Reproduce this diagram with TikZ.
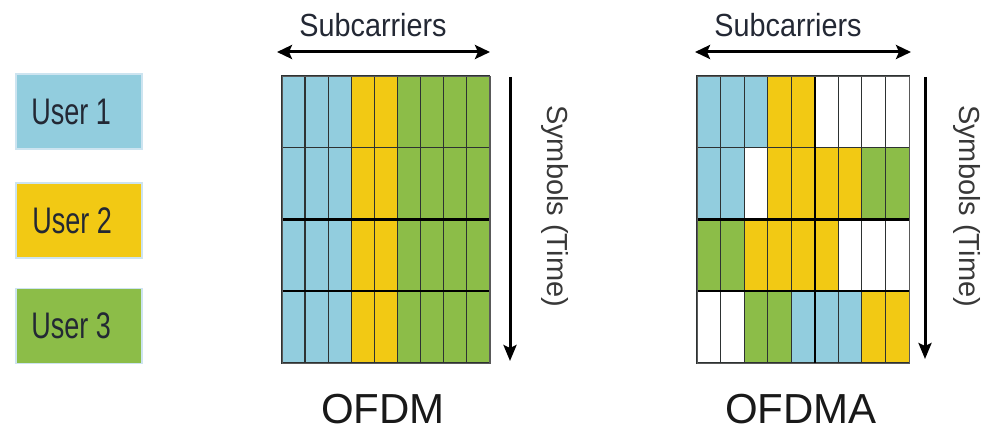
\documentclass[tikz,border=0pt]{standalone}
\usepackage{fontspec}
\setmainfont{Liberation Sans}
\newfontfamily\condfont[FakeStretch=0.73]{Liberation Sans}
\newfontfamily\headfont[FakeStretch=0.9]{Liberation Sans}
\usetikzlibrary{arrows.meta}

\definecolor{cellb}{RGB}{146,205,222}
\definecolor{celly}{RGB}{242,201,20}
\definecolor{cellg}{RGB}{140,189,72}
\definecolor{cellw}{RGB}{255,255,255}
\definecolor{labeltext}{RGB}{35,40,52}
\definecolor{legendedge}{RGB}{205,228,240}
\definecolor{gridline}{RGB}{45,50,50}

\tikzset{
  legendbox/.style={draw=legendedge, line width=1.5pt, minimum width=126pt,
    minimum height=75pt, inner sep=0pt},
  legendtext/.style={anchor=west, inner sep=0pt, text=labeltext,
    font=\condfont\fontsize{37}{42}\selectfont},
  axislabel/.style={inner sep=0pt, text=labeltext,
    font=\headfont\fontsize{32}{36}\selectfont},
  timelabel/.style={inner sep=0pt, rotate=-90, text=black!78,
    font=\fontsize{29}{34}\selectfont},
  title/.style={inner sep=0pt, text=black!90, anchor=base,
    font=\fontsize{42}{48}\selectfont},
  twoway/.style={line width=3pt,
    {Stealth[length=15pt,width=14pt,inset=3pt]}-{Stealth[length=15pt,width=14pt,inset=3pt]}},
  oneway/.style={line width=3pt, -{Stealth[length=16pt,width=13pt,inset=3pt]}},
  cellline/.style={draw=gridline, line width=1.1pt},
  rowline/.style={draw=black, line width=2.4pt},
  frame/.style={draw=black!65, line width=1.4pt}
}

\begin{document}
\begin{tikzpicture}[x=1pt,y=-1pt]
\useasboundingbox (0,0) rectangle (981,433);

% ---- legend ----
\node[legendbox, fill=cellb] (user1) at (79,111.5) {};
\node[legendbox, fill=celly] (user2) at (79,220.5) {};
\node[legendbox, fill=cellg] (user3) at (79,326) {};
\node[legendtext] (user1t) at ([xshift=16pt]user1.west) {User 1};
\node[legendtext] (user2t) at ([xshift=17pt]user2.west) {User 2};
\node[legendtext] (user3t) at ([xshift=16pt]user3.west) {User 3};

% ---- OFDM grid: every user keeps its subcarriers in every symbol ----
\def\ofdmx{282}\def\ofdmw{23.03}
\def\gridy{76}\def\rowh{71.75}
\foreach \r/\cols in {0/{b,b,b,y,y,g,g,g,g},1/{b,b,b,y,y,g,g,g,g},
                      2/{b,b,b,y,y,g,g,g,g},3/{b,b,b,y,y,g,g,g,g}}{
  \foreach \c [count=\i from 0] in \cols {
    \path[fill=cell\c, cellline]
      (\ofdmx+\i*\ofdmw,\gridy+\r*\rowh) rectangle ++(\ofdmw,\rowh);
  }
}
\draw[rowline] (\ofdmx,\gridy+2*\rowh) -- ++(9*\ofdmw,0);
\draw[rowline] (\ofdmx,\gridy+3*\rowh) -- ++(9*\ofdmw,0);
\node[frame, inner sep=0pt, minimum width=9*23.03pt, minimum height=4*71.75pt,
      anchor=north west] (ofdm) at (\ofdmx,\gridy) {};

% ---- OFDMA grid: subcarriers shared out per symbol ----
\def\ofdmax{697}\def\ofdmaw{23.56}
\foreach \r/\cols in {0/{b,b,b,y,y,w,w,w,w},1/{b,b,w,y,y,y,y,g,g},
                      2/{g,g,y,y,y,y,w,w,w},3/{w,w,g,g,b,b,b,y,y}}{
  \foreach \c [count=\i from 0] in \cols {
    \path[fill=cell\c, cellline]
      (\ofdmax+\i*\ofdmaw,\gridy+\r*\rowh) rectangle ++(\ofdmaw,\rowh);
  }
}
\draw[rowline] (\ofdmax,\gridy+2*\rowh) -- ++(9*\ofdmaw,0);
\draw[rowline] (\ofdmax,\gridy+3*\rowh) -- ++(9*\ofdmaw,0);
\draw[draw=black, line width=1.8pt] (\ofdmax+5*\ofdmaw,\gridy) -- ++(0,4*\rowh);
\node[frame, inner sep=0pt, minimum width=9*23.56pt, minimum height=4*71.75pt,
      anchor=north west] (ofdma) at (\ofdmax,\gridy) {};

% ---- axes ----
\coordinate (sc1l) at (277,52);
\coordinate (sc1r) at (490,52);
\coordinate (sc2l) at (695,52);
\coordinate (sc2r) at (911,52);
\coordinate (sy1t) at (510,77);
\coordinate (sy1b) at (510,361);
\coordinate (sy2t) at (925,77);
\coordinate (sy2b) at (925,359);
\draw[twoway] (sc1l) -- (sc1r);
\draw[twoway] (sc2l) -- (sc2r);
\draw[oneway] (sy1t) -- (sy1b);
\draw[oneway] (sy2t) -- (sy2b);

\node[axislabel] (sub1) at (373,25) {Subcarriers};
\node[axislabel] (sub2) at (788,25) {Subcarriers};
\node[timelabel] (time1) at (555,206) {Symbols (Time)};
\node[timelabel] (time2) at (967,206) {Symbols (Time)};

% ---- titles ----
\node[title] (t1) at (383,423) {OFDM};
\node[title] (t2) at (801,423) {OFDMA};
\end{tikzpicture}
\end{document}
